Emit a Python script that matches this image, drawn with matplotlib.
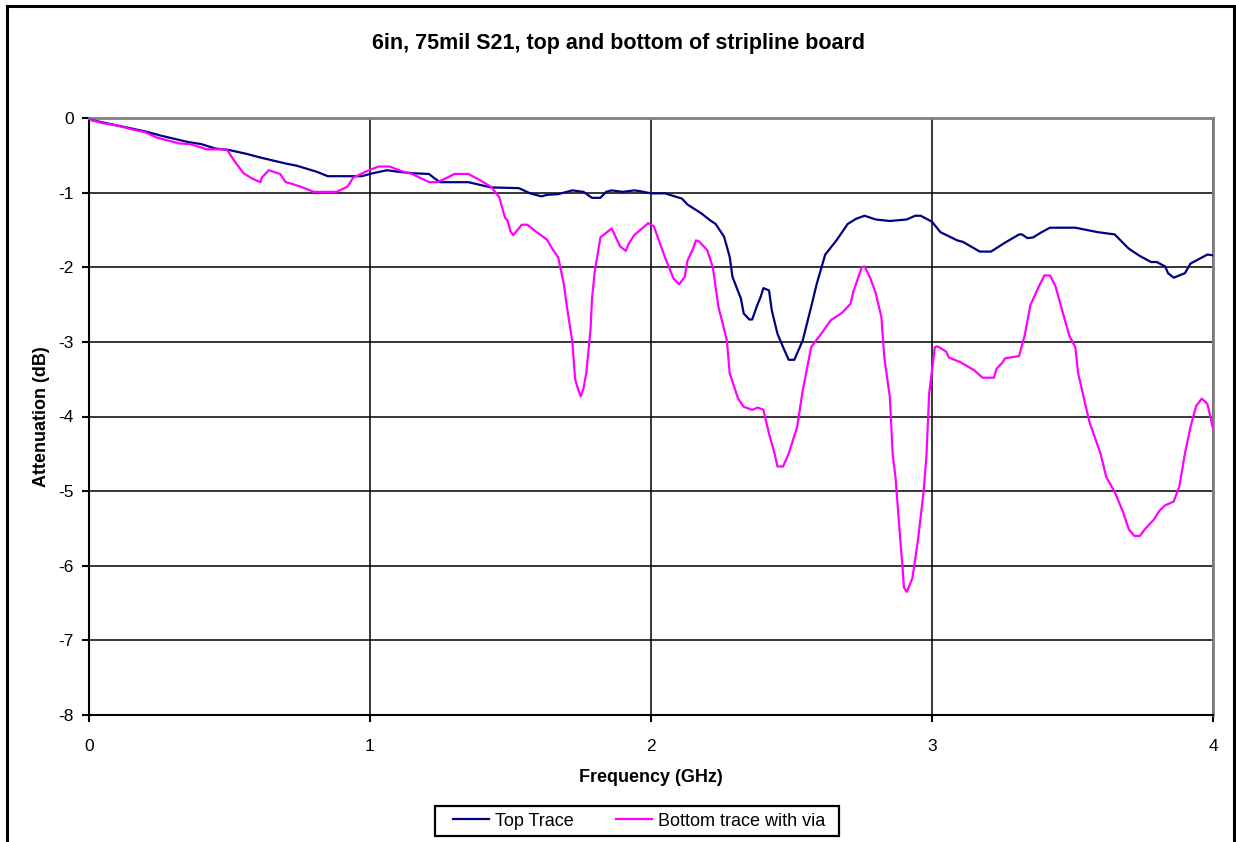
import matplotlib
matplotlib.use("Agg")
import matplotlib.pyplot as plt
from matplotlib.patches import Rectangle

plt.rcParams["font.family"] = ["Liberation Sans", "DejaVu Sans"]
plt.rcParams["axes.unicode_minus"] = False

# Top trace S21 (GHz, dB)
top_freq = [0.0, 0.10, 0.20, 0.26, 0.35, 0.40, 0.45, 0.50, 0.56, 0.61, 0.70, 0.74,
            0.81, 0.85, 0.97, 1.01, 1.06, 1.10, 1.15, 1.21, 1.23, 1.25, 1.35, 1.43,
            1.53, 1.57, 1.61, 1.63, 1.67, 1.72, 1.76, 1.79, 1.82, 1.84, 1.86, 1.90,
            1.94, 1.96, 2.00, 2.05, 2.11, 2.13, 2.18, 2.21, 2.23, 2.26, 2.28, 2.29,
            2.32, 2.33, 2.35, 2.36, 2.38, 2.39, 2.40, 2.42, 2.43, 2.45, 2.47, 2.49,
            2.51, 2.54, 2.57, 2.59, 2.62, 2.66, 2.70, 2.73, 2.76, 2.80, 2.85, 2.91,
            2.94, 2.96, 3.00, 3.03, 3.09, 3.11, 3.17, 3.21, 3.26, 3.31, 3.32, 3.34,
            3.36, 3.39, 3.42, 3.51, 3.59, 3.65, 3.70, 3.74, 3.78, 3.80, 3.83, 3.84,
            3.86, 3.90, 3.92, 3.96, 3.98, 4.00]
top_db = [-0.02, -0.10, -0.18, -0.24, -0.32, -0.35, -0.41, -0.43, -0.48, -0.53, -0.61, -0.64,
          -0.72, -0.78, -0.78, -0.74, -0.70, -0.72, -0.74, -0.75, -0.81, -0.86, -0.86, -0.93,
          -0.94, -1.01, -1.05, -1.03, -1.02, -0.97, -0.99, -1.07, -1.07, -0.99, -0.97, -0.99,
          -0.97, -0.98, -1.01, -1.01, -1.08, -1.16, -1.28, -1.37, -1.42, -1.59, -1.86, -2.13,
          -2.42, -2.62, -2.70, -2.70, -2.49, -2.40, -2.28, -2.31, -2.58, -2.89, -3.07, -3.24,
          -3.24, -2.98, -2.53, -2.22, -1.83, -1.64, -1.42, -1.35, -1.31, -1.36, -1.38, -1.36,
          -1.31, -1.31, -1.39, -1.53, -1.64, -1.66, -1.79, -1.79, -1.67, -1.56, -1.56, -1.61,
          -1.60, -1.53, -1.47, -1.47, -1.53, -1.56, -1.75, -1.85, -1.93, -1.93, -1.99, -2.08,
          -2.14, -2.08, -1.95, -1.87, -1.83, -1.84]

# Bottom trace with via S21 (GHz, dB)
bot_freq = [0.0, 0.05, 0.10, 0.15, 0.20, 0.24, 0.32, 0.36, 0.42, 0.49, 0.52, 0.55,
            0.58, 0.61, 0.615, 0.64, 0.68, 0.70, 0.72, 0.76, 0.80, 0.88, 0.92, 0.94,
            0.99, 1.03, 1.07, 1.11, 1.15, 1.21, 1.24, 1.28, 1.30, 1.35, 1.39, 1.43,
            1.46, 1.48, 1.49, 1.50, 1.51, 1.54, 1.56, 1.59, 1.63, 1.65, 1.67, 1.69,
            1.70, 1.72, 1.73, 1.74, 1.75, 1.76, 1.77, 1.785, 1.79, 1.80, 1.81, 1.82,
            1.86, 1.87, 1.89, 1.91, 1.92, 1.94, 1.99, 2.01, 2.03, 2.05, 2.08, 2.10,
            2.12, 2.13, 2.15, 2.16, 2.17, 2.20, 2.22, 2.24, 2.27, 2.28, 2.31, 2.33,
            2.36, 2.38, 2.40, 2.42, 2.44, 2.45, 2.47, 2.49, 2.52, 2.54, 2.57, 2.60,
            2.64, 2.68, 2.71, 2.72, 2.75, 2.76, 2.78, 2.80, 2.82, 2.83, 2.85, 2.86,
            2.87, 2.88, 2.89, 2.895, 2.90, 2.91, 2.93, 2.95, 2.97, 2.98, 2.99, 3.00,
            3.01, 3.02, 3.05, 3.06, 3.10, 3.15, 3.18, 3.22, 3.23, 3.25, 3.26, 3.31,
            3.33, 3.35, 3.38, 3.40, 3.42, 3.44, 3.47, 3.49, 3.51, 3.52, 3.56, 3.60,
            3.62, 3.65, 3.68, 3.70, 3.72, 3.74, 3.76, 3.79, 3.81, 3.83, 3.86, 3.88,
            3.90, 3.92, 3.94, 3.96, 3.98, 4.00]
bot_db = [-0.02, -0.07, -0.10, -0.15, -0.19, -0.26, -0.34, -0.35, -0.42, -0.42, -0.59, -0.74,
          -0.81, -0.86, -0.80, -0.70, -0.75, -0.86, -0.88, -0.93, -0.99, -0.99, -0.92, -0.80,
          -0.71, -0.65, -0.65, -0.71, -0.75, -0.86, -0.86, -0.79, -0.75, -0.75, -0.83, -0.92,
          -1.06, -1.33, -1.38, -1.52, -1.57, -1.43, -1.43, -1.52, -1.63, -1.76, -1.87, -2.23,
          -2.51, -3.00, -3.50, -3.63, -3.73, -3.62, -3.41, -2.82, -2.42, -2.05, -1.83, -1.60,
          -1.48, -1.56, -1.72, -1.78, -1.69, -1.57, -1.41, -1.45, -1.66, -1.87, -2.15, -2.23,
          -2.13, -1.91, -1.75, -1.64, -1.65, -1.77, -2.00, -2.53, -2.98, -3.42, -3.76, -3.87,
          -3.91, -3.88, -3.91, -4.23, -4.50, -4.67, -4.67, -4.50, -4.14, -3.65, -3.07, -2.92,
          -2.71, -2.61, -2.49, -2.33, -2.00, -1.99, -2.14, -2.35, -2.67, -3.20, -3.74, -4.50,
          -4.81, -5.30, -5.79, -6.01, -6.29, -6.35, -6.17, -5.66, -5.01, -4.54, -3.69, -3.38,
          -3.07, -3.06, -3.13, -3.21, -3.27, -3.38, -3.48, -3.48, -3.36, -3.28, -3.22, -3.19,
          -2.91, -2.51, -2.26, -2.11, -2.11, -2.26, -2.67, -2.93, -3.07, -3.42, -4.07, -4.50,
          -4.81, -5.01, -5.28, -5.51, -5.60, -5.60, -5.50, -5.38, -5.26, -5.19, -5.14, -4.94,
          -4.50, -4.14, -3.86, -3.76, -3.83, -4.16]

x_ticks = [0, 1, 2, 3, 4]
y_ticks = [0, -1, -2, -3, -4, -5, -6, -7, -8]

W, H = 1236, 842
fig = plt.figure(figsize=(W / 100, H / 100), dpi=100)
fig.patch.set_facecolor("white")

left, right, top, bottom = 89, 1213, 118, 715
ax = fig.add_axes([left / W, 1 - bottom / H, (right - left) / W, (bottom - top) / H])

ax.plot(top_freq, top_db, color="#000080", lw=1.6, label="Top Trace", zorder=3)
ax.plot(bot_freq, bot_db, color="#FF00FF", lw=1.6, label="Bottom trace with via", zorder=3)

ax.set_xlim(0, 4)
ax.set_ylim(-8, 0)
ax.set_xticks(x_ticks)
ax.set_yticks(y_ticks)
ax.grid(True, color="black", lw=1.1)
ax.set_axisbelow(True)

for side in ("top", "right"):
    ax.spines[side].set_color("#808080")
    ax.spines[side].set_linewidth(2)
for side in ("left", "bottom"):
    ax.spines[side].set_color("black")
    ax.spines[side].set_linewidth(1.5)

ax.tick_params(axis="both", direction="out", length=5, width=1.5, colors="black",
               labelsize=12.5)
ax.tick_params(axis="x", pad=12)
ax.tick_params(axis="y", pad=6)

ax.set_xlabel("Frequency (GHz)", fontsize=13, fontweight="bold", labelpad=11)
ax.set_ylabel("Attenuation (dB)", fontsize=13, fontweight="bold", labelpad=6)

fig.text(0.5, 1 - 43 / H, "6in, 75mil S21, top and bottom of stripline board",
         ha="center", va="center", fontsize=15.5, fontweight="bold")

# legend entries without frame; a plain rectangular box is drawn around them
leg = fig.legend(loc="center", bbox_to_anchor=(639 / W, 1 - 821 / H), ncol=2,
                 fontsize=13, frameon=False, handlelength=2.0,
                 handletextpad=0.35, columnspacing=2.3, borderpad=0.0,
                 borderaxespad=0.0)
fig.patches.append(Rectangle((435 / W, 1 - 836 / H), (839 - 435) / W, 30 / H,
                             transform=fig.transFigure, fill=False,
                             edgecolor="black", lw=1.6))

# chart-area frame
fig.patches.append(Rectangle((7 / W, -0.05), (1234 - 7) / W, 1.05 - 6 / H,
                             transform=fig.transFigure, fill=False,
                             edgecolor="black", lw=2.2))

fig.savefig("out.png", dpi=100)
